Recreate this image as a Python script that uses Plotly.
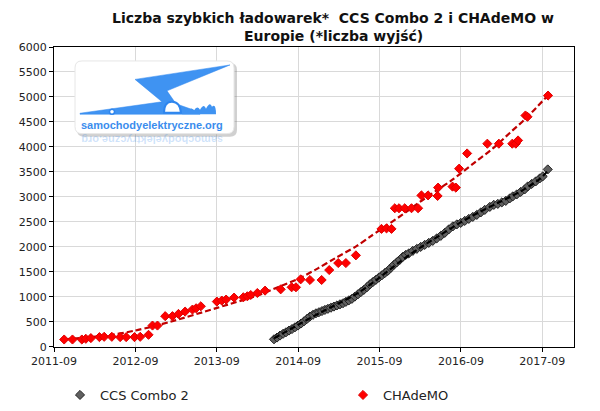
import plotly.graph_objects as go
from datetime import datetime

# ---------------- data (dates as decimal years, values = number of outlets) ----------------
chademo_year = [2011.791, 2011.893, 2012.008, 2012.057, 2012.119, 2012.224, 2012.282, 2012.376, 2012.478, 2012.552,
                2012.654, 2012.724, 2012.826, 2012.875, 2012.936, 2013.031, 2013.120, 2013.194, 2013.276, 2013.366,
                2013.411, 2013.469, 2013.666, 2013.727, 2013.780, 2013.878, 2013.992, 2014.041, 2014.083, 2014.164,
                2014.259, 2014.451, 2014.586, 2014.639, 2014.697, 2014.811, 2014.955, 2015.048, 2015.159, 2015.253,
                2015.376, 2015.691, 2015.753, 2015.814, 2015.855, 2015.907, 2015.977, 2016.060, 2016.141, 2016.182,
                2016.263, 2016.386, 2016.380, 2016.563, 2016.604, 2016.644, 2016.742, 2016.990, 2017.132, 2017.297,
                2017.340, 2017.368, 2017.459, 2017.484, 2017.737]
chademo_value = [146, 146, 146, 160, 174, 194, 200, 200, 194, 194,
                 194, 200, 240, 425, 425, 613, 613, 658, 705, 745,
                 771, 811, 905, 925, 945, 985, 991, 1011, 1037, 1077,
                 1124, 1150, 1191, 1191, 1350, 1337, 1337, 1536, 1676, 1676,
                 1830, 2360, 2370, 2360, 2773, 2773, 2773, 2773, 2773, 3030,
                 3030, 3186, 3019, 3206, 3186, 3565, 3870, 4065, 4065, 4065,
                 4065, 4130, 4629, 4603, 5028]

ccs_year = [2014.369, 2014.406, 2014.443, 2014.480, 2014.516, 2014.553, 2014.590, 2014.627, 2014.664, 2014.701,
            2014.738, 2014.774, 2014.811, 2014.848, 2014.885, 2014.922, 2014.959, 2014.995, 2015.032, 2015.069,
            2015.106, 2015.143, 2015.180, 2015.217, 2015.253, 2015.290, 2015.327, 2015.364, 2015.401, 2015.437,
            2015.474, 2015.511, 2015.548, 2015.585, 2015.622, 2015.658, 2015.695, 2015.732, 2015.769, 2015.806,
            2015.843, 2015.879, 2015.916, 2015.953, 2015.990, 2016.027, 2016.076, 2016.125, 2016.174, 2016.223,
            2016.272, 2016.321, 2016.370, 2016.419, 2016.468, 2016.517, 2016.567, 2016.616, 2016.665, 2016.714,
            2016.763, 2016.812, 2016.861, 2016.910, 2016.959, 2017.021, 2017.070, 2017.119, 2017.168, 2017.217,
            2017.266, 2017.303, 2017.352, 2017.401, 2017.450, 2017.487, 2017.536, 2017.585, 2017.635, 2017.671,
            2017.733]
ccs_value = [150, 185, 225, 260, 290, 325, 355, 390, 425, 465,
             510, 555, 605, 640, 670, 692, 715, 738, 760, 782,
             805, 828, 850, 872, 900, 930, 960, 1005, 1050, 1095,
             1140, 1190, 1250, 1295, 1340, 1385, 1430, 1475, 1520, 1580,
             1640, 1690, 1740, 1800, 1840, 1870, 1920, 1960, 2000, 2040,
             2080, 2120, 2170, 2220, 2280, 2350, 2410, 2450, 2480, 2520,
             2560, 2600, 2640, 2690, 2740, 2800, 2840, 2860, 2890, 2920,
             2970, 3010, 3050, 3100, 3150, 3210, 3260, 3310, 3370, 3410,
             3550]

# trend lines
chademo_trend_year = [2011.791, 2012.380, 2012.662, 2012.847, 2013.092, 2013.669, 2014.197, 2014.443, 2014.664,
                      2014.909, 2015.118, 2015.388, 2015.548, 2015.683, 2015.756, 2015.953, 2016.162, 2016.370,
                      2016.567, 2016.837, 2017.058, 2017.266, 2017.475, 2017.733]
chademo_trend_value = [150, 240, 325, 395, 500, 780, 1044, 1211, 1357,
                       1570, 1770, 2020, 2200, 2350, 2430, 2650, 2900, 3130,
                       3350, 3690, 3970, 4280, 4590, 5028]
ccs_trend_year = [2014.369, 2014.688, 2014.934, 2015.180, 2015.425, 2015.671, 2015.916, 2016.162,
                  2016.407, 2016.653, 2016.898, 2017.144, 2017.389, 2017.635, 2017.733]
ccs_trend_value = [170, 460, 680, 880, 1100, 1390, 1700, 1980,
                   2230, 2480, 2700, 2900, 3100, 3360, 3520]

x_tick_dates = ["2011-09-01", "2012-09-01", "2013-09-01", "2014-09-01", "2015-09-01", "2016-09-01", "2017-09-01"]
x_tick_labels = ["2011-09", "2012-09", "2013-09", "2014-09", "2015-09", "2016-09", "2017-09"]
y_tick_values = [0, 500, 1000, 1500, 2000, 2500, 3000, 3500, 4000, 4500, 5000, 5500, 6000]

title_lines = ["Liczba szybkich ładowarek*  CCS Combo 2 i CHAdeMO w", "Europie (*liczba wyjść)"]
series_names = ["CCS Combo 2", "CHAdeMO"]
logo_text = "samochodyelektryczne.org"


def to_date(y):
    yr = int(y)
    a = datetime(yr, 1, 1)
    b = datetime(yr + 1, 1, 1)
    return a + (b - a) * (y - yr)


FONT = "Verdana, DejaVu Sans, sans-serif"

fig = go.Figure()

fig.add_trace(go.Scatter(
    x=[to_date(v) for v in chademo_trend_year], y=chademo_trend_value, mode="lines",
    line=dict(color="#c00000", width=2.2, dash="6px,3px", shape="spline", smoothing=0.8),
    showlegend=False, hoverinfo="skip"))
fig.add_trace(go.Scatter(
    x=[to_date(v) for v in ccs_year], y=ccs_value, mode="markers", name=series_names[0],
    legend="legend",
    marker=dict(symbol="diamond", size=7, color="#606060", line=dict(color="#222222", width=1))))
fig.add_trace(go.Scatter(
    x=[to_date(v) for v in ccs_trend_year], y=ccs_trend_value, mode="lines",
    line=dict(color="#000000", width=2.2, dash="6px,3px", shape="spline", smoothing=0.8),
    showlegend=False, hoverinfo="skip"))
fig.add_trace(go.Scatter(
    x=[to_date(v) for v in chademo_year], y=chademo_value, mode="markers", name=series_names[1],
    legend="legend2",
    marker=dict(symbol="diamond", size=7, color="#ff0000", line=dict(color="#e00000", width=1))))

# ---------------- logo (pixel helper -> paper coords) ----------------
PL, PR, PT, PB = 54, 574, 47, 348


def P(x, y):
    return f"{(x - PL) / (PR - PL):.4f},{(PB - y) / (PB - PT):.4f}"


def rounded(x0, y0, x1, y1, r):
    return (f"M{P(x0 + r, y0)} L{P(x1 - r, y0)} Q{P(x1, y0)} {P(x1, y0 + r)} "
            f"L{P(x1, y1 - r)} Q{P(x1, y1)} {P(x1 - r, y1)} L{P(x0 + r, y1)} "
            f"Q{P(x0, y1)} {P(x0, y1 - r)} L{P(x0, y0 + r)} Q{P(x0, y0)} {P(x0 + r, y0)} Z")


shapes = []
shapes.append(dict(type="path", xref="paper", yref="paper", layer="above",
                   path=rounded(77, 63, 237, 137, 7), fillcolor="rgba(120,120,120,0.35)",
                   line=dict(width=0)))
shapes.append(dict(type="path", xref="paper", yref="paper", layer="above",
                   path=rounded(75, 61, 234, 134, 7), fillcolor="white",
                   line=dict(color="#e6e6e6", width=1)))
bolt = (f"M{P(135, 79.5)} L{P(230, 65)} L{P(167, 91)} L{P(176, 104)} L{P(200, 112.5)} "
        f"L{P(200, 114.5)} L{P(80, 114.5)} L{P(80, 113.5)} L{P(162, 102)} Z")
shapes.append(dict(type="path", xref="paper", yref="paper", layer="above", path=bolt,
                   fillcolor="#3f93f2", line=dict(color="#2f86ee", width=0.5)))
shapes.append(dict(type="path", xref="paper", yref="paper", layer="above",
                   path=f"M{P(164, 113)} Q{P(164, 102)} {P(172, 102)} Q{P(180, 102)} {P(181, 113)} Z",
                   fillcolor="white", line=dict(color="#2f86ee", width=2)))
shapes.append(dict(type="path", xref="paper", yref="paper", layer="above",
                   path=(f"M{P(182, 114.5)} Q{P(186, 109)} {P(188, 112)} Q{P(191, 106)} {P(194, 111)} "
                         f"Q{P(197, 105)} {P(200, 110)} Q{P(204, 103)} {P(206, 109)} Q{P(210, 101)} {P(212, 107)} "
                         f"Q{P(216, 103)} {P(216, 114.5)} Z"),
                   fillcolor="#3f93f2", line=dict(width=0)))
shapes.append(dict(type="circle", xref="paper", yref="paper", layer="above",
                   x0=(109.5 - PL) / 520, x1=(114.5 - PL) / 520,
                   y0=(PB - 114.5) / 301, y1=(PB - 109.5) / 301,
                   fillcolor="white", line=dict(color="#2f86ee", width=1.5)))

annotations = [
    dict(text=f"<b>{title_lines[0]}</b>", xref="paper", yref="paper",
         x=(333 - PL) / 520, y=(PB - 18) / 301, showarrow=False, xanchor="center", yanchor="middle",
         font=dict(family=FONT, size=14, color="#111111")),
    dict(text=f"<b>{title_lines[1]}</b>", xref="paper", yref="paper",
         x=(333 - PL) / 520, y=(PB - 36) / 301, showarrow=False, xanchor="center", yanchor="middle",
         font=dict(family=FONT, size=14, color="#111111")),
    dict(text=f"<b>{logo_text}</b>", xref="paper", yref="paper",
         x=(152 - PL) / 520, y=(PB - 125) / 301, showarrow=False, xanchor="center", yanchor="middle",
         font=dict(family="Liberation Sans, Arial, sans-serif", size=11, color="#3b8ded")),
    dict(text=f"<b>{logo_text}</b>", xref="paper", yref="paper",
         x=(152 - PL) / 520, y=(PB - 141) / 301, showarrow=False, xanchor="center", yanchor="middle",
         textangle=180,
         font=dict(family="Liberation Sans, Arial, sans-serif", size=11, color="rgba(59,141,237,0.25)")),
]

legend_common = dict(orientation="h", xref="container", yref="container", xanchor="left",
                     yanchor="middle", y=1 - 395 / 411,
                     font=dict(family=FONT, size=13, color="#222222"), bgcolor="rgba(0,0,0,0)")

fig.update_layout(
    width=600, height=411,
    margin=dict(l=PL, r=600 - PR, t=PT, b=411 - PB),
    paper_bgcolor="white", plot_bgcolor="white",
    font=dict(family=FONT, size=11, color="#222222"),
    xaxis=dict(type="date", range=["2011-09-01", to_date(2018.056)],
               tickmode="array", tickvals=x_tick_dates, ticktext=x_tick_labels,
               showgrid=True, gridcolor="#d9d9d9", gridwidth=1,
               showline=True, linecolor="black", linewidth=1, mirror=True,
               ticks="outside", ticklen=4, tickcolor="black",
               tickfont=dict(family=FONT, size=11, color="#222222"), zeroline=False),
    yaxis=dict(range=[0, 6000], tickmode="array", tickvals=y_tick_values,
               showgrid=True, gridcolor="#d9d9d9", gridwidth=1,
               showline=True, linecolor="black", linewidth=1, mirror=True,
               ticks="outside", ticklen=4, tickcolor="black",
               tickfont=dict(family=FONT, size=11, color="#222222"), zeroline=False),
    legend=dict(legend_common, x=60 / 600),
    legend2=dict(legend_common, x=343 / 600),
    shapes=shapes,
    annotations=annotations,
    showlegend=True,
)

fig.write_html("out.html")
